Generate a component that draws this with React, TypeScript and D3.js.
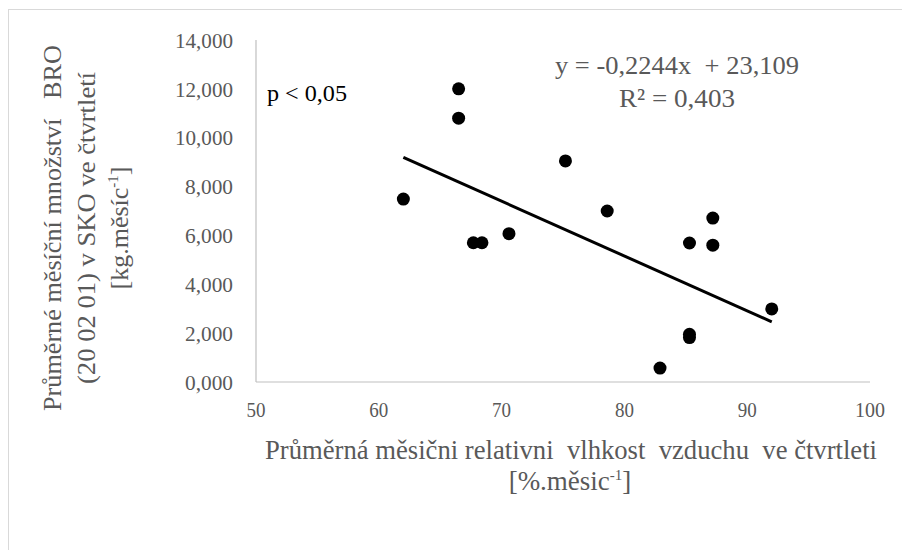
import React from "react";
import * as d3 from "d3";

// Quarterly averages: relative air humidity [%] vs. amount of biodegradable waste [thousand kg per month]
const humidity = [62.0, 66.5, 66.5, 67.7, 68.4, 70.6, 75.2, 78.6, 82.9, 85.3, 85.3, 85.3, 87.2, 87.2, 92.0];
const amount = [7.49, 12.0, 10.8, 5.7, 5.7, 6.07, 9.05, 7.0, 0.57, 5.69, 1.95, 1.82, 6.71, 5.6, 2.99];

const xTicks = [50, 60, 70, 80, 90, 100];
const yTicks = [0, 2, 4, 6, 8, 10, 12, 14];

// Linear trend from the stated equation
const slope = -0.2244;
const intercept = 23.109;

const W = 902;
const H = 550;
const M = { left: 256, right: 870, top: 40, bottom: 382 };

const GRAY = "#595959";
const FONT = "'Liberation Serif', 'Times New Roman', serif";

const fmt = (v: number) => v.toFixed(3).replace(".", ",");

export default function App() {
  const x = d3.scaleLinear().domain([50, 100]).range([M.left, M.right]);
  const y = d3.scaleLinear().domain([0, 14]).range([M.bottom, M.top]);

  const x0 = d3.min(humidity) as number;
  const x1 = d3.max(humidity) as number;
  const trend = d3.line<number>()
    .x((d) => x(d))
    .y((d) => y(slope * d + intercept))([x0, x1]);

  return (
    <svg
      width={W}
      height={H}
      style={{ position: "absolute", left: 0, top: 0, background: "#fff" }}
      fontFamily={FONT}
    >
      <rect x={0} y={0} width={W} height={H} fill="#fff" />
      <rect x={8.5} y={9.5} width={W + 20} height={H + 20} fill="none" stroke="#d9d9d9" />

      {/* axes */}
      <line x1={M.left} x2={M.left} y1={M.top} y2={M.bottom} stroke="#bfbfbf" strokeWidth={1.2} />
      <line x1={M.left} x2={M.right} y1={M.bottom} y2={M.bottom} stroke="#bfbfbf" strokeWidth={1.2} />

      {yTicks.map((t) => (
        <text key={t} x={233} y={y(t)} dy="0.35em" textAnchor="end" fontSize={22} fill={GRAY}
          textLength={t >= 10 ? 58 : 48} lengthAdjust="spacingAndGlyphs">
          {fmt(t)}
        </text>
      ))}
      {xTicks.map((t) => (
        <text key={t} x={x(t)} y={417} textAnchor="middle" fontSize={22} fill={GRAY}
          textLength={t >= 100 ? 30 : 19} lengthAdjust="spacingAndGlyphs">
          {t}
        </text>
      ))}

      {/* trend line */}
      <path d={trend || ""} stroke="#000" strokeWidth={3} fill="none" />

      {/* points */}
      {humidity.map((h, i) => (
        <circle key={i} cx={x(h)} cy={y(amount[i])} r={6.5} fill="#000" />
      ))}

      {/* annotations */}
      <text x={267} y={101} fontSize={23} fill="#000" textLength={80} lengthAdjust="spacingAndGlyphs">
        p &lt; 0,05
      </text>
      <text x={677} y={74} textAnchor="middle" fontSize={26} fill={GRAY}
        style={{ whiteSpace: "pre" }} textLength={244} lengthAdjust="spacingAndGlyphs">
        {"y = -0,2244x  + 23,109"}
      </text>
      <text x={677} y={107} textAnchor="middle" fontSize={26} fill={GRAY}
        textLength={116} lengthAdjust="spacingAndGlyphs">
        R² = 0,403
      </text>

      {/* x-axis title */}
      <text x={571} y={459} textAnchor="middle" fontSize={27} fill={GRAY}
        style={{ whiteSpace: "pre" }} textLength={612} lengthAdjust="spacingAndGlyphs">
        {"Průměrná měsični relativni  vlhkost  vzduchu  ve čtvrtleti"}
      </text>
      <text x={570} y={490} textAnchor="middle" fontSize={27} fill={GRAY}>
        [%.měsic<tspan dy={-10} fontSize={15}>-1</tspan><tspan dy={10}>]</tspan>
      </text>

      {/* y-axis title */}
      <g transform={`translate(61, 228) rotate(-90)`}>
        <text x={0} y={0} textAnchor="middle" fontSize={26} fill={GRAY}
          style={{ whiteSpace: "pre" }} textLength={366} lengthAdjust="spacingAndGlyphs">
          {"Průměrné měsíční množství   BRO"}
        </text>
        <text x={0} y={34} textAnchor="middle" fontSize={26} fill={GRAY}
          textLength={312} lengthAdjust="spacingAndGlyphs">
          (20 02 01) v SKO ve čtvrtletí
        </text>
        <text x={0} y={67} textAnchor="middle" fontSize={26} fill={GRAY}>
          [kg.měsíc<tspan dy={-10} fontSize={15}>-1</tspan><tspan dy={10}>]</tspan>
        </text>
      </g>
    </svg>
  );
}
